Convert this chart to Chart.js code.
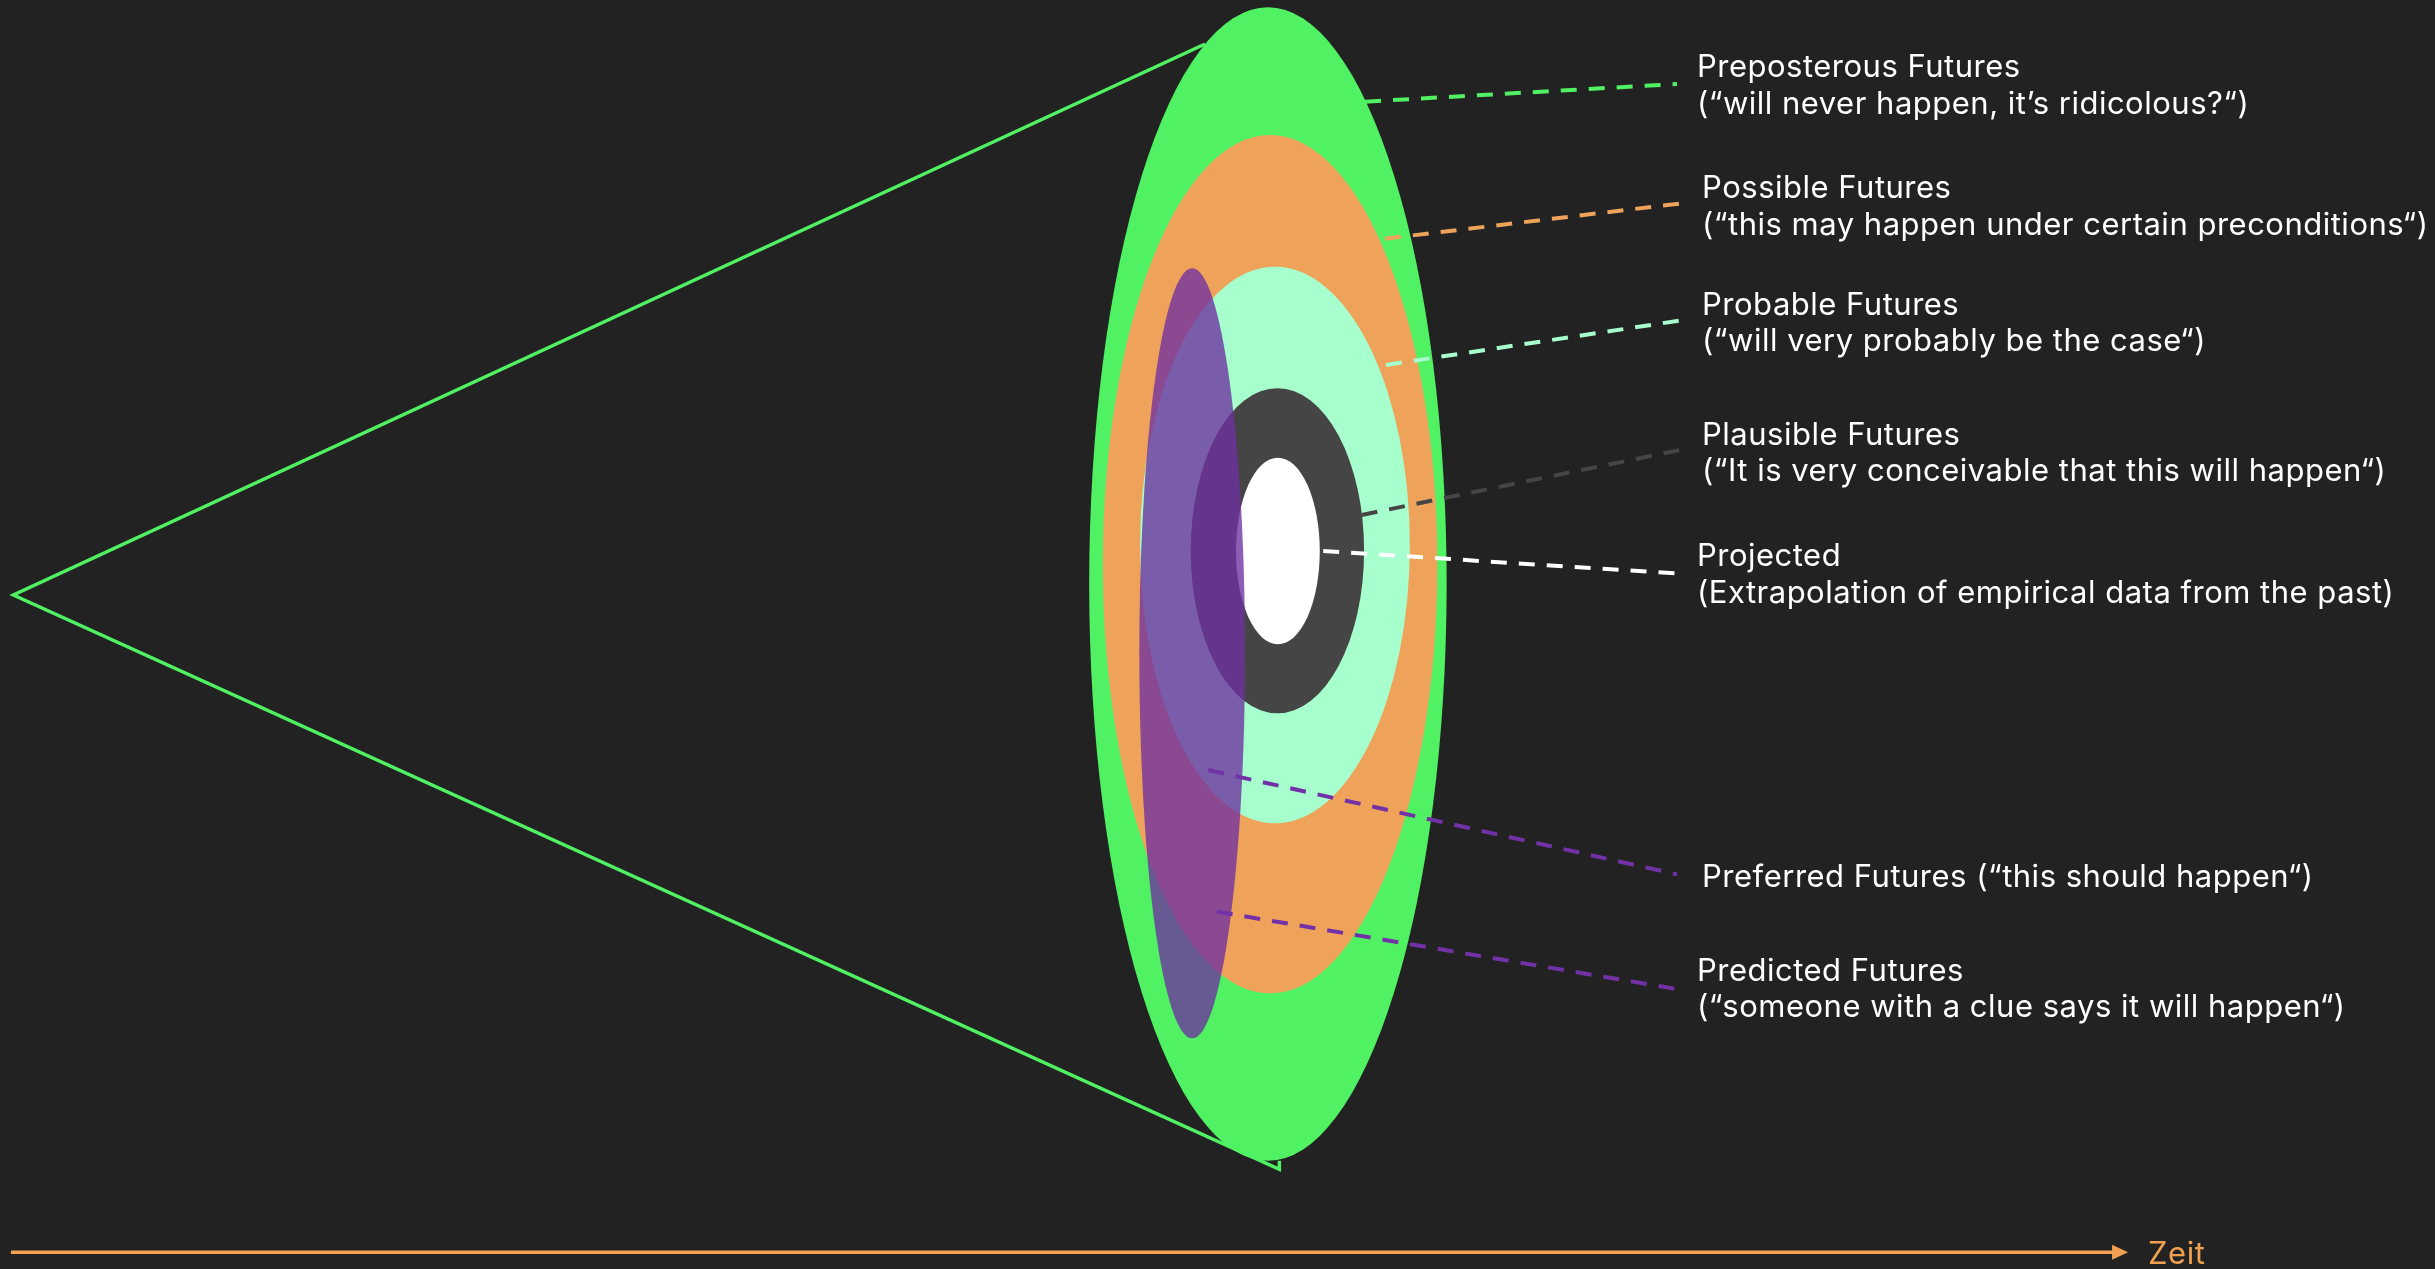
<!DOCTYPE html>
<html>
<head>
<meta charset="utf-8">
<title>Futures Cone</title>
<script src="https://cdn.jsdelivr.net/npm/chart.js@4/dist/chart.umd.min.js"></script>
<style>
  html, body { margin: 0; padding: 0; background: #222222; }
  #wrap { width: 2435px; height: 1269px; position: relative; }
</style>
</head>
<body>
<div id="wrap"><canvas id="cone"></canvas></div>
<script>
/* ─── Data (x = time, y = spread of futures) ─── */
const ellipseNames = ['Preposterous', 'Possible', 'Probable', 'Plausible', 'Projected', 'Preferred'];
const ellipseX  = [52.07, 52.16, 52.36, 52.46, 52.48, 48.96];
const ellipseY  = [0.71, 2.27, 3.78, 3.33, 3.31, -4.75];
const ellipseRX = [7.34, 6.87, 5.54, 3.56, 1.72, 2.17];
const ellipseRY = [45.45, 33.82, 21.93, 12.81, 7.35, 30.34];

const coneX = [52.54, 52.54, 0.55, 49.49];
const coneY = [-44.73, -45.41, -0.16, 43.26];

const leaderStartX = [56.06, 56.88, 56.92, 55.92, 54.34, 49.62, 49.97];
const leaderStartY = [38.72, 27.92, 17.97, 6.15, 3.31, -13.95, -25.11];
const leaderEndX   = [68.87, 68.99, 68.99, 68.99, 68.87, 68.87, 68.87];
const leaderEndY   = [40.11, 30.69, 21.47, 11.27, 1.54, -22.17, -31.21];

const labelTitles = [
  'Preposterous Futures',
  'Possible Futures',
  'Probable Futures',
  'Plausible Futures',
  'Projected',
  'Preferred Futures (\u201Cthis should happen\u201C)',
  'Predicted Futures'
];
const labelNotes = [
  '(\u201Cwill never happen, it\u2019s ridicolous?\u201C)',
  '(\u201Cthis may happen under certain preconditions\u201C)',
  '(\u201Cwill very probably be the case\u201C)',
  '(\u201CIt is very conceivable that this will happen\u201C)',
  '(Extrapolation of empirical data from the past)',
  '',
  '(\u201Csomeone with a clue says it will happen\u201C)'
];
const labelX = [69.69, 69.90, 69.90, 69.90, 69.69, 69.90, 69.69];
const labelY = [40.66, 31.09, 21.91, 11.70, 2.09, -23.13, -30.54];

const timeAxisX = [0.45, 86.78];
const timeAxisY = [-51.95, -51.95];
const timeAxisLabel = 'Zeit';

/* ─── Styles ─── */
const GREEN  = '#50f162';
const ORANGE = '#efa35a';
const MINT   = '#a6ffcc';
const GREY   = '#454545';
const PURPLE = '#7231a6';
const AXIS_ORANGE = '#f0a050';

const FILL_COLORS   = [GREEN, ORANGE, MINT, GREY, '#ffffff', 'rgba(110,48,160,0.78)'];
const LEADER_COLORS = [GREEN, ORANGE, MINT, GREY, '#ffffff', PURPLE, PURPLE];
const FONT = "31px 'Inter', 'Noto Sans', sans-serif";
const LINE_GAP = 36.5;

/* ─── Plugin: background, ellipses, labels, arrow ─── */
const conePlugin = {
  id: 'conePlugin',
  beforeDraw(chart) {
    const { ctx, width, height } = chart;
    ctx.save();
    ctx.fillStyle = '#222222';
    ctx.fillRect(0, 0, width, height);
    ctx.restore();
  },
  beforeDatasetsDraw(chart) {
    const { ctx, scales: { x, y } } = chart;
    ctx.save();
    ellipseNames.forEach((name, i) => {
      const cx = x.getPixelForValue(ellipseX[i]);
      const cy = y.getPixelForValue(ellipseY[i]);
      const rx = Math.abs(x.getPixelForValue(ellipseX[i] + ellipseRX[i]) - cx);
      const ry = Math.abs(y.getPixelForValue(ellipseY[i] + ellipseRY[i]) - cy);
      ctx.beginPath();
      ctx.ellipse(cx, cy, rx, ry, 0, 0, Math.PI * 2);
      ctx.fillStyle = FILL_COLORS[i];
      ctx.fill();
    });
    ctx.restore();
  },
  afterDatasetsDraw(chart) {
    const { ctx, scales: { x, y } } = chart;
    ctx.save();
    ctx.font = FONT;
    if ('letterSpacing' in ctx) ctx.letterSpacing = '0.5px';
    ctx.textBaseline = 'alphabetic';
    ctx.textAlign = 'left';
    ctx.fillStyle = '#ffffff';
    labelTitles.forEach((t, i) => {
      const px = x.getPixelForValue(labelX[i]);
      const py = y.getPixelForValue(labelY[i]);
      ctx.fillText(t, px, py);
      if (labelNotes[i]) ctx.fillText(labelNotes[i], px, py + LINE_GAP);
    });

    // arrow head + axis label
    const ax = x.getPixelForValue(timeAxisX[1]);
    const ay = y.getPixelForValue(timeAxisY[1]);
    ctx.fillStyle = AXIS_ORANGE;
    ctx.beginPath();
    ctx.moveTo(ax - 1, ay - 7.5);
    ctx.lineTo(ax + 15, ay);
    ctx.lineTo(ax - 1, ay + 7.5);
    ctx.closePath();
    ctx.fill();
    ctx.fillText(timeAxisLabel, ax + 35, ay + 12);
    ctx.restore();
  }
};

/* ─── Datasets ─── */
const datasets = [];
datasets.push({
  label: 'cone',
  data: coneX.map((v, i) => ({ x: v, y: coneY[i] })),
  showLine: true,
  borderColor: GREEN,
  borderWidth: 3.5,
  pointRadius: 0,
  borderJoinStyle: 'miter'
});
leaderStartX.forEach((sx, i) => {
  datasets.push({
    label: 'leader ' + (i + 1),
    data: [{ x: sx, y: leaderStartY[i] }, { x: leaderEndX[i], y: leaderEndY[i] }],
    showLine: true,
    borderColor: LEADER_COLORS[i],
    borderWidth: 4,
    borderDash: [16, 12],
    pointRadius: 0
  });
});
datasets.push({
  label: timeAxisLabel,
  data: timeAxisX.map((v, i) => ({ x: v, y: timeAxisY[i] })),
  showLine: true,
  borderColor: AXIS_ORANGE,
  borderWidth: 3.5,
  pointRadius: 0
});

new Chart(document.getElementById('cone'), {
  type: 'scatter',
  data: { datasets },
  options: {
    responsive: true,
    maintainAspectRatio: false,
    animation: false,
    layout: { padding: 0 },
    plugins: { legend: { display: false }, tooltip: { enabled: false } },
    scales: {
      x: { type: 'linear', min: 0, max: 100, display: false },
      y: { type: 'linear', min: -53.27, max: 46.73, display: false }
    }
  },
  plugins: [conePlugin]
});
</script>
</body>
</html>
